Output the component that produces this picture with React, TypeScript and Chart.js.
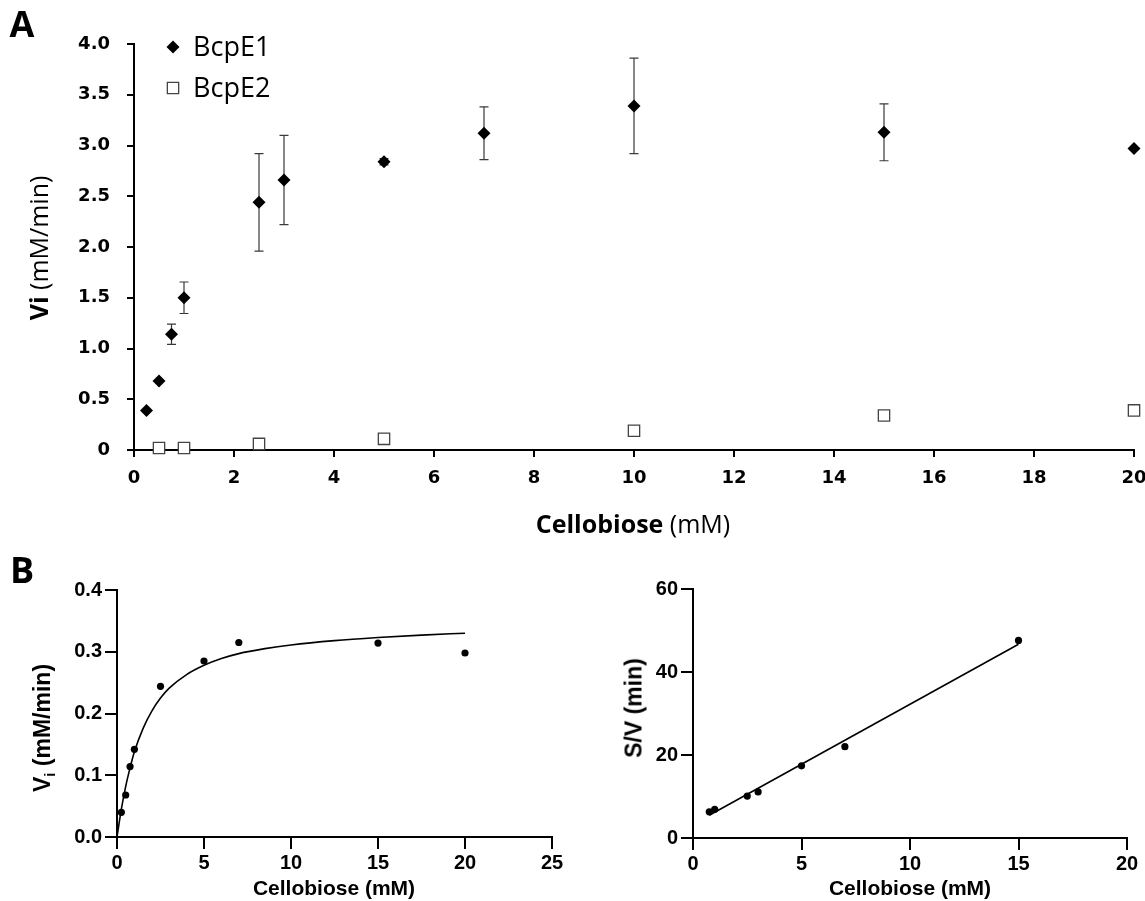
import React, { useEffect, useRef } from 'react';
import { Chart, registerables } from 'chart.js';

Chart.register(...registerables);

// ---------- Panel A : initial velocity vs cellobiose ----------
const concE1 = [0.25, 0.5, 0.75, 1, 2.5, 3, 5, 7, 10, 15, 20];
const viE1 = [0.39, 0.68, 1.14, 1.5, 2.44, 2.66, 2.84, 3.12, 3.39, 3.13, 2.97];
const sdE1 = [0, 0, 0.1, 0.155, 0.48, 0.44, 0.03, 0.26, 0.47, 0.28, 0];
const concE2 = [0.5, 1, 2.5, 5, 10, 15, 20];
const viE2 = [0.02, 0.02, 0.06, 0.11, 0.19, 0.34, 0.39];
const seriesNames = ['BcpE1', 'BcpE2'];

// ---------- Panel B left : Michaelis-Menten ----------
const concMM = [0.25, 0.5, 0.75, 1, 2.5, 5, 7, 15, 20];
const viMM = [0.04, 0.068, 0.114, 0.142, 0.244, 0.285, 0.315, 0.314, 0.298];
const fitMMx = [0, 0.25, 0.5, 0.75, 1, 1.5, 2, 2.5, 3, 4, 5, 6, 7, 8.5, 10, 12.5, 15, 17.5, 20];
const fitMMy = [0, 0.045, 0.082, 0.112, 0.138, 0.176, 0.204, 0.225, 0.241, 0.263, 0.278, 0.289, 0.297, 0.305, 0.311, 0.318, 0.323, 0.327, 0.33];

// ---------- Panel B right : Hanes-Woolf ----------
const concHW = [0.75, 1, 2.5, 3, 5, 7, 15];
const svHW = [6.3, 6.9, 10.1, 11.1, 17.4, 22.0, 47.6];
const fitHWx = [0.75, 15];
const fitHWy = [5.5, 46.7];

const pts = (xs: number[], ys: number[]) => xs.map((x, i) => ({ x, y: ys[i] }));

const errorBarPlugin = {
  id: 'errorBars',
  beforeDatasetsDraw(chart: any, _a: any, opts: any) {
    const errs: number[] = opts.errors || [];
    const ds = chart.data.datasets[0];
    const { ctx } = chart;
    const xs = chart.scales.x;
    const ys = chart.scales.y;
    ctx.save();
    ctx.strokeStyle = opts.color;
    ctx.lineWidth = 1.2;
    ds.data.forEach((p: any, i: number) => {
      const e = errs[i];
      if (!e) return;
      const px = xs.getPixelForValue(p.x);
      const top = ys.getPixelForValue(p.y + e);
      const bot = ys.getPixelForValue(p.y - e);
      ctx.beginPath();
      ctx.moveTo(px, top);
      ctx.lineTo(px, bot);
      ctx.moveTo(px - opts.cap, top);
      ctx.lineTo(px + opts.cap, top);
      ctx.moveTo(px - opts.cap, bot);
      ctx.lineTo(px + opts.cap, bot);
      ctx.stroke();
    });
    ctx.restore();
  },
};

const markerLegendPlugin = {
  id: 'markerLegend',
  afterDatasetsDraw(chart: any, _a: any, opts: any) {
    const { ctx } = chart;
    ctx.save();
    chart.data.datasets.forEach((ds: any, i: number) => {
      const cx = opts.x;
      const cy = opts.y + i * opts.gap;
      ctx.beginPath();
      if (ds.pointStyle === 'rectRot') {
        const r = ds.pointRadius;
        ctx.moveTo(cx, cy - r);
        ctx.lineTo(cx + r, cy);
        ctx.lineTo(cx, cy + r);
        ctx.lineTo(cx - r, cy);
        ctx.closePath();
      } else {
        const s = ds.pointRadius * Math.SQRT1_2;
        ctx.rect(cx - s, cy - s, 2 * s, 2 * s);
      }
      ctx.fillStyle = ds.backgroundColor;
      ctx.fill();
      if (ds.borderWidth > 0) {
        ctx.lineWidth = ds.borderWidth;
        ctx.strokeStyle = ds.borderColor;
        ctx.stroke();
      }
      ctx.fillStyle = '#000';
      ctx.font = opts.font;
      ctx.textBaseline = 'middle';
      ctx.textAlign = 'left';
      ctx.fillText(ds.label, opts.textX, cy + 1);
    });
    ctx.restore();
  },
};

function linAxis(o: any) {
  return {
    type: 'linear',
    min: o.min,
    max: o.max,
    ticks: {
      stepSize: o.step,
      color: '#000',
      font: o.font,
      padding: o.padding,
      maxRotation: 0,
      autoSkip: false,
      callback: o.callback,
    },
    grid: {
      display: true,
      drawOnChartArea: false,
      drawTicks: true,
      tickLength: o.tickLength,
      color: '#000',
      lineWidth: 2,
    },
    border: { display: true, color: '#000', width: 2 },
    afterFit: (s: any) => {
      if (o.width !== undefined) s.width = o.width;
      if (o.height !== undefined) s.height = o.height;
      s.paddingLeft = 0;
      s.paddingRight = 0;
      s.paddingTop = 0;
      s.paddingBottom = 0;
    },
  };
}

const fontA = { family: 'DejaVu Sans', size: 18, weight: 'bold' };
const fontB = { family: 'Liberation Sans', size: 20, weight: 'bold' };

function configA(): any {
  return {
    type: 'scatter',
    data: {
      datasets: [
        {
          label: seriesNames[0],
          data: pts(concE1, viE1),
          pointStyle: 'rectRot',
          pointRadius: 6.5,
          backgroundColor: '#000',
          borderColor: '#000',
          borderWidth: 0,
          clip: false,
        },
        {
          label: seriesNames[1],
          data: pts(concE2, viE2),
          pointStyle: 'rect',
          pointRadius: 8,
          backgroundColor: '#fff',
          borderColor: '#444',
          borderWidth: 1.3,
          clip: false,
        },
      ],
    },
    options: {
      responsive: false,
      animation: false,
      events: [],
      layout: { padding: { left: 0, right: 11, top: 44, bottom: 0 }, autoPadding: false },
      plugins: {
        legend: { display: false },
        tooltip: { enabled: false },
        errorBars: { errors: sdE1, color: '#3a3a3a', cap: 4.5 },
        markerLegend: { x: 173, y: 47, gap: 41, textX: 193, font: '27px "Open Sans"' },
      },
      scales: {
        x: linAxis({ min: 0, max: 20, step: 2, font: fontA, padding: 11, tickLength: 7, height: 95 }),
        y: linAxis({
          min: 0, max: 4, step: 0.5, font: fontA, padding: 17, tickLength: 7, width: 134,
          callback: (v: number) => (v === 0 ? '0' : Number(v).toFixed(1)),
        }),
      },
    },
    plugins: [errorBarPlugin, markerLegendPlugin],
  };
}

function configB1(): any {
  return {
    type: 'scatter',
    data: {
      datasets: [
        {
          label: 'Vi',
          data: pts(concMM, viMM),
          pointRadius: 3.6,
          backgroundColor: '#000',
          borderColor: '#000',
          borderWidth: 0,
          clip: false,
        },
        {
          label: 'Michaelis-Menten fit',
          data: pts(fitMMx, fitMMy),
          showLine: true,
          pointRadius: 0,
          borderColor: '#000',
          borderWidth: 1.6,
          cubicInterpolationMode: 'monotone',
          clip: false,
        },
      ],
    },
    options: {
      responsive: false,
      animation: false,
      events: [],
      layout: { padding: { left: 0, right: 20, top: 45, bottom: 0 }, autoPadding: false },
      plugins: { legend: { display: false }, tooltip: { enabled: false } },
      scales: {
        x: linAxis({ min: 0, max: 25, step: 5, font: fontB, padding: 2, tickLength: 12, height: 64 }),
        y: linAxis({
          min: 0, max: 0.4, step: 0.1, font: fontB, padding: 3, tickLength: 12, width: 117,
          callback: (v: number) => Number(v).toFixed(1),
        }),
      },
    },
  };
}

function configB2(): any {
  return {
    type: 'scatter',
    data: {
      datasets: [
        {
          label: 'S/V',
          data: pts(concHW, svHW),
          pointRadius: 3.6,
          backgroundColor: '#000',
          borderColor: '#000',
          borderWidth: 0,
          clip: false,
        },
        {
          label: 'Linear fit',
          data: pts(fitHWx, fitHWy),
          showLine: true,
          pointRadius: 0,
          borderColor: '#000',
          borderWidth: 1.6,
          clip: false,
        },
      ],
    },
    options: {
      responsive: false,
      animation: false,
      events: [],
      layout: { padding: { left: 0, right: 18, top: 44, bottom: 0 }, autoPadding: false },
      plugins: { legend: { display: false }, tooltip: { enabled: false } },
      scales: {
        x: linAxis({ min: 0, max: 20, step: 5, font: fontB, padding: 2, tickLength: 12, height: 63 }),
        y: linAxis({ min: 0, max: 60, step: 20, font: fontB, padding: 3, tickLength: 12, width: 121 }),
      },
    },
  };
}

const abs = (left: number, top: number, extra: any = {}): any => ({
  position: 'absolute',
  left,
  top,
  transform: 'translate(-50%, -50%)' + (extra.rotate ? ' rotate(-90deg)' : ''),
  whiteSpace: 'nowrap',
  color: '#000',
  lineHeight: 1,
  ...extra.style,
});

export default function App() {
  const refA = useRef<HTMLCanvasElement>(null);
  const refB1 = useRef<HTMLCanvasElement>(null);
  const refB2 = useRef<HTMLCanvasElement>(null);

  useEffect(() => {
    const charts = [
      new Chart(refA.current as HTMLCanvasElement, configA()),
      new Chart(refB1.current as HTMLCanvasElement, configB1()),
      new Chart(refB2.current as HTMLCanvasElement, configB2()),
    ];
    return () => charts.forEach((c) => c.destroy());
  }, []);

  const fA = { fontFamily: '"Open Sans", sans-serif', fontSize: 25 };
  const fBx = { fontFamily: '"Liberation Sans", Arial, sans-serif', fontSize: 21, fontWeight: 'bold' };
  const fBy = { fontFamily: '"Liberation Sans", Arial, sans-serif', fontSize: 23, fontWeight: 'bold' };

  return (
    <div style={{ position: 'absolute', left: 0, top: 0, width: 1145, height: 901, background: '#fff', overflow: 'hidden' }}>
      <canvas ref={refA} width={1145} height={545} style={{ position: 'absolute', left: 0, top: 0, width: 1145, height: 545 }} />
      <canvas ref={refB1} width={572} height={356} style={{ position: 'absolute', left: 0, top: 545, width: 572, height: 356 }} />
      <canvas ref={refB2} width={573} height={356} style={{ position: 'absolute', left: 572, top: 545, width: 573, height: 356 }} />

      <div style={abs(22, 24, { style: { fontFamily: '"Open Sans", sans-serif', fontSize: 36, fontWeight: 'bold' } })}>A</div>
      <div style={abs(22, 570, { style: { fontFamily: '"Open Sans", sans-serif', fontSize: 36, fontWeight: 'bold' } })}>B</div>

      <div style={abs(38, 248, { rotate: true, style: fA })}>
        <span style={{ fontWeight: 'bold' }}>Vi</span> (mM/min)
      </div>
      <div style={abs(633, 523, { style: fA })}>
        <span style={{ fontWeight: 'bold' }}>Cellobiose</span> (mM)
      </div>

      <div style={abs(42, 728, { rotate: true, style: fBy })}>
        V<sub style={{ fontSize: 15, verticalAlign: 'sub', lineHeight: 0 }}>i</sub> (mM/min)
      </div>
      <div style={abs(334, 887, { style: fBx })}>Cellobiose (mM)</div>

      <div style={abs(634, 708, { rotate: true, style: fBy })}>S/V (min)</div>
      <div style={abs(910, 887, { style: fBx })}>Cellobiose (mM)</div>
    </div>
  );
}
